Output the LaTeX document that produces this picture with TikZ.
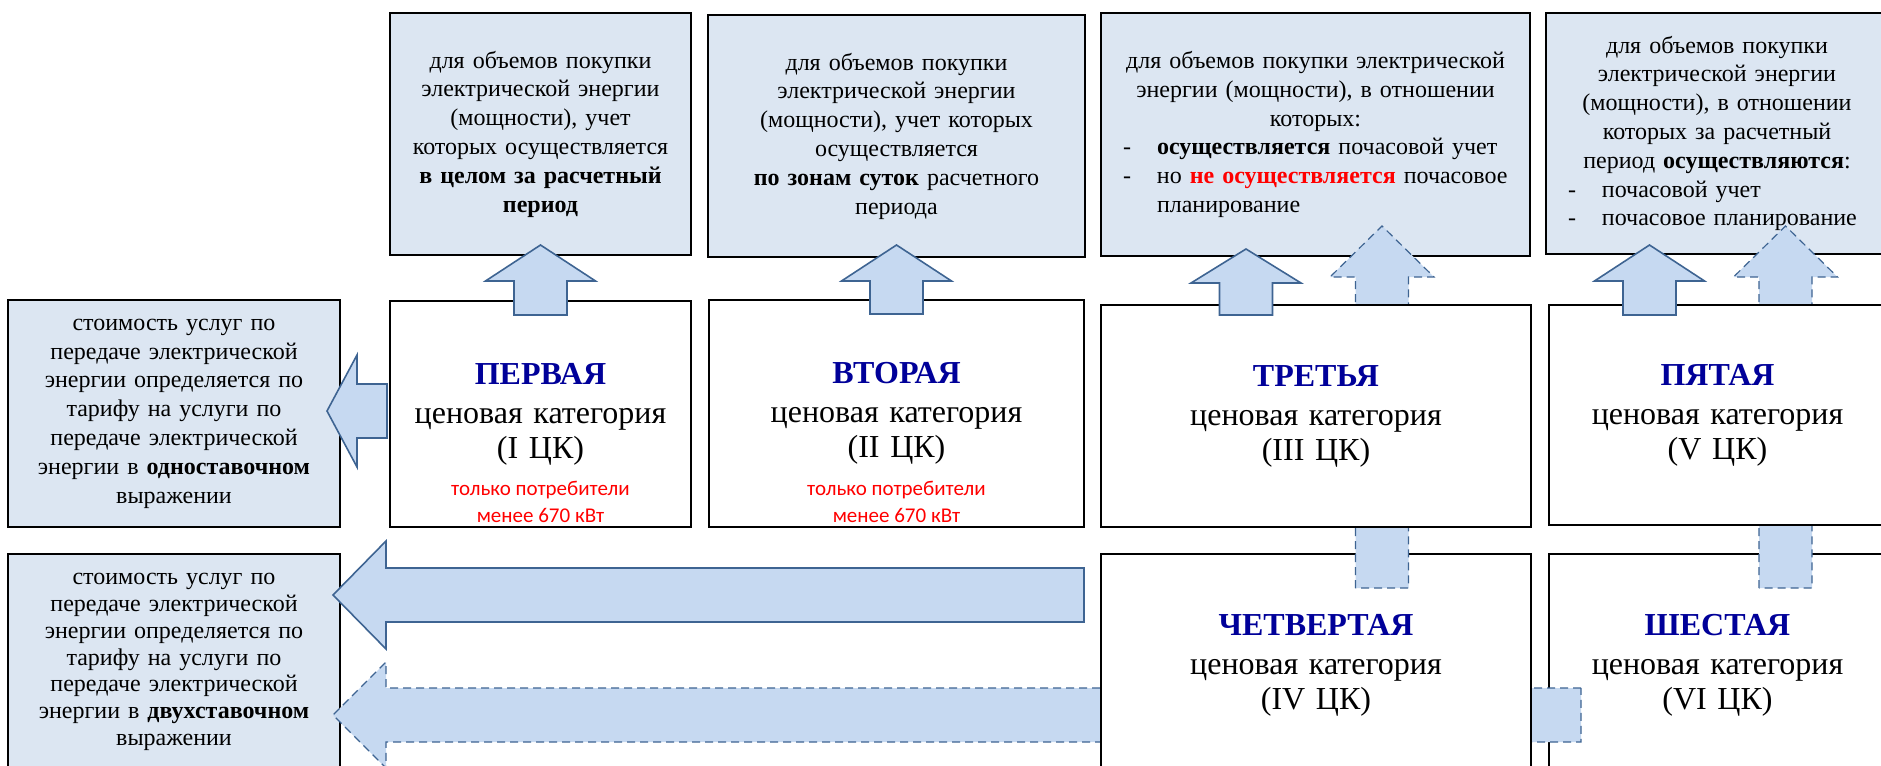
\documentclass[tikz,border=0pt]{standalone}
\usepackage{fontspec}
\setmainfont{Liberation Serif}
\newfontfamily\calibri{Carlito}
\usetikzlibrary{positioning,calc}
\definecolor{boxfill}{RGB}{220,230,242}
\definecolor{arrfill}{RGB}{198,217,241}
\definecolor{arrline}{RGB}{62,100,146}
\definecolor{hdblue}{RGB}{0,0,153}
\newcommand{\itemline}[1]{\makebox[\linewidth][l]{\rlap{\hspace*{11pt}-}\hspace*{28pt}#1}}
\newcommand{\itemcont}[1]{\makebox[\linewidth][l]{\hspace*{28pt}#1}}

\begin{document}
\begin{tikzpicture}[x=0.5pt,y=-0.5pt,
  every node/.style={inner sep=0pt,outer sep=0pt},
  infobox/.style={draw=black,line width=1.2pt,fill=boxfill,align=center,font=\fontsize{12}{14.4}\selectfont},
  catbox/.style={draw=black,line width=1.1pt,fill=white,align=center,font=\fontsize{16}{17.5}\selectfont},
  note/.style={align=center,text=red,font=\calibri\fontsize{10.5}{13.5}\selectfont},
  arr/.style={draw=arrline,fill=arrfill,line width=0.8pt},
  darr/.style={arr,line width=0.6pt,dash pattern=on 4pt off 2.5pt},
  uparr/.style 2 args={to path={let \p1=(\tikztostart),\p2=(\tikztotarget) in
    (\x1-13.25pt,\y1) |- (\x1-#2,\y2-#1) -- (\x1,\y2) -- (\x1+#2,\y2-#1) -| (\x1+13.25pt,\y1) -- cycle}},
  leftarr/.style 2 args={to path={let \p1=(\tikztostart),\p2=(\tikztotarget) in
    (\x1,\y1+13.5pt) -| (\x2+#1,\y1+#2) -- (\x2,\y1) -- (\x2+#1,\y1-#2) |- (\x1,\y1-13.5pt) -- cycle}}]
\useasboundingbox (0,0) rectangle (1881,766);
\clip (0,0) rectangle (1881,766);

% upper row: how the volumes are metered
\node[infobox,text width=150.5pt,minimum height=121pt] (T1) at (540.5,134) {для объемов покупки\\ электрической энергии\\ (мощности), учет\\ которых осуществляется\\ \textbf{в целом за расчетный}\\ \textbf{период}};
\node[infobox,text width=188.5pt,minimum height=121pt] (T2) at (896.5,136) {для объемов покупки\\ электрической энергии\\ (мощности), учет которых\\ осуществляется\\ \textbf{по зонам суток} расчетного\\ периода};
\node[infobox,text width=214.5pt,minimum height=121.5pt] (T3) at (1315.5,134.5) {для объемов покупки электрической\\ энергии (мощности), в отношении\\ которых:\\
  \itemline{\textbf{осуществляется} почасовой учет}\\
  \itemline{но \textbf{\color{red}не осуществляется} почасовое}\\
  \itemcont{планирование}};
\node[infobox,text width=171pt,minimum height=120.5pt] (T4) at (1717,133.5) {для объемов покупки\\ электрической энергии\\ (мощности), в отношении\\ которых за расчетный\\ период \textbf{осуществляются}:\\
  \itemline{почасовой учет}\\
  \itemline{почасовое планирование}};

% left column: transmission tariff
\node[infobox,text width=166pt,minimum height=113.5pt] (L1) at (174,413.5) {стоимость услуг по\\ передаче электрической\\ энергии определяется по\\ тарифу на услуги по\\ передаче электрической\\ энергии в \textbf{одноставочном}\\ выражении};
\node[infobox,text width=166pt,minimum height=108pt,font=\fontsize{12}{13.4}\selectfont] (L2) at (174,662) {стоимость услуг по\\ передаче электрической\\ энергии определяется по\\ тарифу на услуги по\\ передаче электрической\\ энергии в \textbf{двухставочном}\\ выражении};

% dashed links run behind the category boxes
\node[catbox,text width=168.5pt,minimum height=111pt] (C6) at (1717.5,665) {{\bfseries\color{hdblue}ШЕСТАЯ}\\[2pt] ценовая категория\\ (VI ЦК)};
\path[darr] ([xshift=16pt,yshift=-80.5pt]C6.north west) to[leftarr={26.5pt}{26.5pt}] ([xshift=-3.5pt]L2.east);
\node[catbox,text width=215pt,minimum height=111pt] (C4) at (1316,665) {{\bfseries\color{hdblue}ЧЕТВЕРТАЯ}\\[2pt] ценовая категория\\ (IV ЦК)};
\path[darr] ([xshift=33pt,yshift=-17pt]C4.north) to[uparr={25.5pt}{26pt}] ([yshift=15pt]T3.south)
            ([xshift=34pt,yshift=-17pt]C6.north) to[uparr={25.5pt}{26pt}] ([yshift=14pt]T4.south);

% price categories
\node[catbox,text width=150.5pt,minimum height=113pt] (C1) at (540.5,414) {{\bfseries\color{hdblue}ПЕРВАЯ}\\[2pt] ценовая категория\\ (I ЦК)};
\node[catbox,text width=187.5pt,minimum height=113.5pt] (C2) at (896.5,413.5) {{\bfseries\color{hdblue}ВТОРАЯ}\\[2pt] ценовая категория\\ (II ЦК)};
\node[catbox,text width=215pt,minimum height=111pt] (C3) at (1316,416) {{\bfseries\color{hdblue}ТРЕТЬЯ}\\[2pt] ценовая категория\\ (III ЦК)};
\node[catbox,text width=168.5pt,minimum height=110pt] (C5) at (1717.5,415) {{\bfseries\color{hdblue}ПЯТАЯ}\\[2pt] ценовая категория\\ (V ЦК)};
\node[note,above=2pt of C1.south] (N1) {только потребители\\ менее 670 кВт};
\node[note,above=2pt of C2.south] (N2) {только потребители\\ менее 670 кВт};

% solid links
\path[arr] ([yshift=-7pt]C1.north) to[uparr={18pt}{27.5pt}] ([yshift=5pt]T1.south)
           ([yshift=-7pt]C2.north) to[uparr={18pt}{27.5pt}] ([yshift=6pt]T2.south)
           ([xshift=-35pt,yshift=-5pt]C3.north) to[uparr={17pt}{27.5pt}] ([yshift=3.5pt]T3.south)
           ([xshift=-34pt,yshift=-5pt]C5.north) to[uparr={18pt}{27.5pt}] ([yshift=4.5pt]T4.south);
\path[arr] ([xshift=-1.5pt,yshift=1.5pt]C1.west) to[leftarr={15pt}{28pt}] ([xshift=-6.5pt]L1.east)
           ([xshift=-8.5pt,yshift=-20.5pt]C4.north west) to[leftarr={26.5pt}{27pt}] ([xshift=-3.5pt]L2.east);
\end{tikzpicture}
\end{document}
